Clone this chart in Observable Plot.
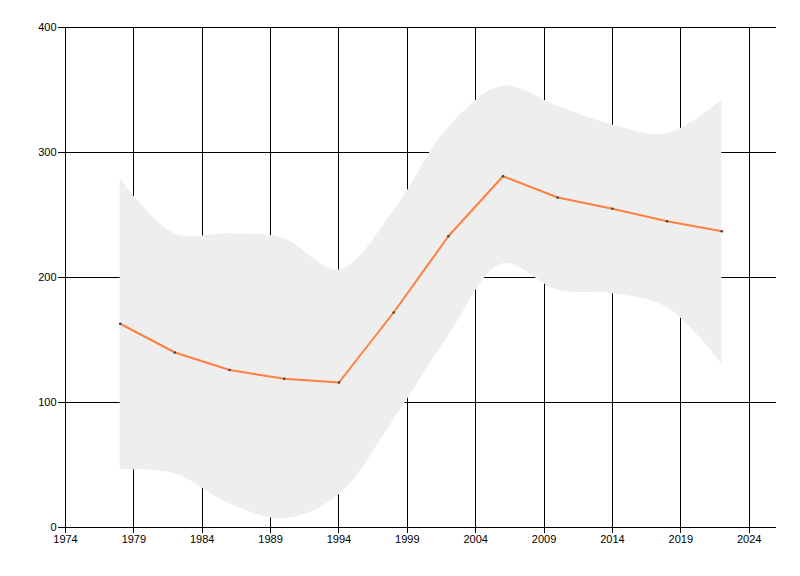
<!DOCTYPE html>
<html>
<head>
<meta charset="utf-8">
<script src="https://cdn.jsdelivr.net/npm/d3@7"></script>
<script src="https://cdn.jsdelivr.net/npm/@observablehq/plot@0.6"></script>
<style>
  html, body { margin: 0; padding: 0; background: #fff; }
  #chart svg { display: block; }
</style>
</head>
<body>
<div id="chart"></div>
<script>
const years  = [1978, 1982, 1986, 1990, 1994, 1998, 2002, 2006, 2010, 2014, 2018, 2022];
const values = [163, 140, 126, 119, 116, 172, 233, 281, 264, 255, 245, 237];
const upper  = [279, 235, 235, 231, 206, 253, 320, 353, 337, 322, 315, 342];
const lower  = [46, 43, 19, 7, 26, 86, 153, 211, 190, 187, 176, 131];
const xTicks = [1974, 1979, 1984, 1989, 1994, 1999, 2004, 2009, 2014, 2019, 2024];
const yTicks = [0, 100, 200, 300, 400];

const data = years.map((y, i) => ({year: y, value: values[i], hi: upper[i], lo: lower[i]}));

const crisp = {shapeRendering: "crispEdges"};

const chart = Plot.plot({
  width: 800,
  height: 576,
  marginLeft: 65,
  marginRight: 24,
  marginTop: 27,
  marginBottom: 49,
  style: {fontFamily: "'Liberation Sans', Arial, sans-serif", fontSize: "11px", color: "#000", background: "#fff"},
  x: {domain: [1974, 2026]},
  y: {domain: [0, 400]},
  marks: [
    Plot.gridX(xTicks, {stroke: "#000", strokeOpacity: 1, ...crisp}),
    Plot.gridY(yTicks, {stroke: "#000", strokeOpacity: 1, ...crisp}),
    Plot.areaY(data, {x: "year", y1: "lo", y2: "hi", curve: "catmull-rom", fill: "#eeeeee"}),
    Plot.line(data, {x: "year", y: "value", stroke: "#ff7f3f", strokeWidth: 2}),
    Plot.dot(data, {x: "year", y: "value", r: 1.3, fill: "#444", stroke: null}),
    Plot.axisX(xTicks, {tickFormat: d => String(d), tickSize: 6, tickPadding: 2, label: null, stroke: "#000", fill: "#000", ...crisp}),
    Plot.axisY(yTicks, {tickSize: 7, tickPadding: 2, label: null, stroke: "#000", fill: "#000", ...crisp}),
    Plot.ruleY([0], {stroke: "#000", ...crisp}),
    Plot.ruleX([1974], {stroke: "#000", ...crisp})
  ]
});
document.getElementById("chart").appendChild(chart);
</script>
</body>
</html>
